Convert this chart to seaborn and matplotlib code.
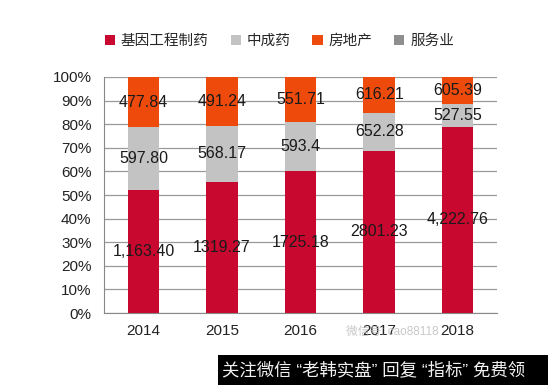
import numpy as np
import pandas as pd
import seaborn as sns
from matplotlib import pyplot as plt
from matplotlib.patches import Patch

years = ['2014', '2015', '2016', '2017', '2018']
series = ['基因工程制药', '中成药', '房地产', '服务业']
biotech = [1163.40, 1319.27, 1725.18, 2801.23, 4222.76]
tcm = [597.80, 568.17, 593.4, 652.28, 527.55]
realty = [477.84, 491.24, 551.71, 616.21, 605.39]
service = [0, 0, 0, 0, 0]
biotech_labels = ['1,163.40', '1319.27', '1725.18', '2801.23', '4,222.76']
tcm_labels = ['597.80', '568.17', '593.4', '652.28', '527.55']
realty_labels = ['477.84', '491.24', '551.71', '616.21', '605.39']
colors = ['#C8082E', '#C3C3C3', '#EE4A0C', '#8E8E8E']

sns.set_style('white')
plt.rcParams['font.family'] = ['Liberation Sans', 'Noto Sans CJK SC']

df = pd.DataFrame({'year': years, '基因工程制药': biotech, '中成药': tcm,
                   '房地产': realty, '服务业': service})
total = df[series].sum(axis=1)
pct = df[series].div(total, axis=0) * 100
cum = pct.cumsum(axis=1)
cum['year'] = years

fig = plt.figure(figsize=(5.48, 3.85), dpi=100)
ax = fig.add_axes([0.19, 0.187, 0.717, 0.613])

# draw cumulative bars from top layer down
for name, color in zip(series[::-1], colors[::-1]):
    sns.barplot(ax=ax, data=cum, x='year', y=name, color=color, width=0.4,
                saturation=1, linewidth=0, edgecolor='none', zorder=2)

ax.set_ylim(0, 100)
ax.set_xlim(-0.5, 4.5)
ax.set_yticks(np.arange(0, 101, 10))
ax.set_yticklabels([f'{v}%' for v in range(0, 101, 10)], fontsize=11, color='#222222')
ax.set_xticks(range(5))
ax.set_xticklabels(years, fontsize=11, color='#222222')
ax.set_xticks(np.arange(-0.5, 5, 1), minor=True)
ax.tick_params(axis='x', which='major', length=0, pad=8)
ax.tick_params(axis='x', which='minor', length=5, color='#888888', direction='out')
ax.tick_params(axis='y', length=5, color='#888888', direction='out', pad=4)
ax.yaxis.grid(True, color='#9a9a9a', linewidth=0.9, zorder=1)
ax.set_axisbelow(True)
for s in ['top', 'right']:
    ax.spines[s].set_visible(False)
for s in ['left', 'bottom']:
    ax.spines[s].set_color('#888888')
ax.set_xlabel('')
ax.set_ylabel('')

# value labels in the middle of each segment
mids = [pct[series[0]] / 2,
        pct[series[0]] + pct[series[1]] / 2,
        pct[series[0]] + pct[series[1]] + pct[series[2]] / 2]
for labels, mid in zip([biotech_labels, tcm_labels, realty_labels], mids):
    for i, (lab, y) in enumerate(zip(labels, mid)):
        ax.text(i, y, lab, ha='center', va='center', fontsize=11.5, color='#1a1a1a', zorder=5)

handles = [Patch(facecolor=c, edgecolor='none') for c in colors]
fig.legend(handles, series, loc='center', bbox_to_anchor=(0.51, 0.894), ncol=4,
           frameon=False, fontsize=10.5, handlelength=0.7, handleheight=0.7,
           handletextpad=0.4, columnspacing=1.5)

# watermark
fig.text(0.715, 0.138, '微信号: cao88118', fontsize=8.5, color='#bbbbbb', alpha=0.8,
         ha='center', va='center')
fig.patches.append(plt.Rectangle((0.398, 0.0), 0.602, 0.078, transform=fig.transFigure,
                                 facecolor='black', edgecolor='none'))
fig.text(0.405, 0.039, '关注微信 “老韩实盘” 回复 “指标” 免费领', fontsize=12.5,
         color='#f2f2f2', ha='left', va='center')

fig.savefig('out.png', dpi=100)
